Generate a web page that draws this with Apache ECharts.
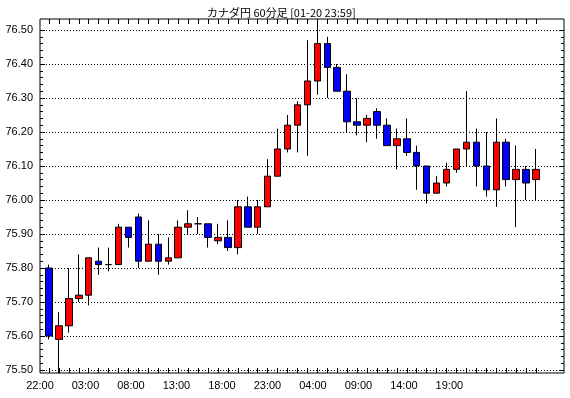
<!DOCTYPE html>
<html>
<head>
<meta charset="utf-8">
<script src="https://cdn.jsdelivr.net/npm/echarts@6/dist/echarts.min.js"></script>
<style>
  html, body { margin: 0; padding: 0; background: #fff; }
  #main { width: 570px; height: 398px; }
</style>
</head>
<body>
<div id="main"></div>
<script>
// hourly bars, 22:00 -> 23:00 two days later
var hours = ['22:00','23:00','00:00','01:00','02:00','03:00','04:00','05:00','06:00','07:00',
             '08:00','09:00','10:00','11:00','12:00','13:00','14:00','15:00','16:00','17:00',
             '18:00','19:00','20:00','21:00','22:00','23:00','00:00','01:00','02:00','03:00',
             '04:00','05:00','06:00','07:00','08:00','09:00','10:00','11:00','12:00','13:00',
             '14:00','15:00','16:00','17:00','18:00','19:00','20:00','21:00','22:00','23:00'];

var opens  = [75.80,75.59,75.63,75.71,75.72,75.82,75.81,75.81,75.92,75.95,
              75.82,75.87,75.82,75.83,75.92,75.93,75.93,75.88,75.89,75.86,
              75.98,75.92,75.98,76.07,76.15,76.22,76.28,76.35,76.46,76.39,
              76.32,76.23,76.22,76.26,76.22,76.16,76.18,76.14,76.10,76.02,
              76.05,76.09,76.15,76.17,76.10,76.03,76.17,76.06,76.09,76.06];
var closes = [75.60,75.63,75.71,75.72,75.83,75.81,75.81,75.92,75.89,75.82,
              75.87,75.82,75.83,75.92,75.93,75.93,75.89,75.89,75.86,75.98,
              75.92,75.98,76.07,76.15,76.22,76.28,76.35,76.46,76.39,76.32,
              76.23,76.22,76.24,76.22,76.16,76.18,76.14,76.10,76.02,76.05,
              76.09,76.15,76.17,76.10,76.03,76.17,76.06,76.09,76.05,76.09];
var lows   = [75.59,75.49,75.61,75.70,75.69,75.78,75.79,75.81,75.86,75.80,
              75.82,75.78,75.81,75.83,75.90,75.90,75.86,75.87,75.85,75.84,
              75.92,75.90,75.98,76.07,76.14,76.14,76.13,76.31,76.30,76.32,
              76.20,76.19,76.17,76.18,76.16,76.09,76.13,76.03,75.99,76.02,
              76.04,76.08,76.10,76.04,76.01,75.98,76.04,75.92,76.00,76.00];
var highs  = [75.81,75.67,75.80,75.84,75.83,75.86,75.86,75.93,75.92,75.96,
              75.94,75.90,75.89,75.94,75.97,75.95,75.93,75.93,75.94,76.00,
              76.01,76.00,76.12,76.21,76.25,76.29,76.47,76.52,76.48,76.40,
              76.37,76.30,76.25,76.27,76.24,76.21,76.24,76.16,76.10,76.07,
              76.11,76.15,76.32,76.21,76.20,76.24,76.18,76.16,76.10,76.15];

var refLevel = 76.24;
var hourLabels = ['22:00','03:00','08:00','13:00','18:00','23:00','04:00','09:00','14:00','19:00'];

var candles = [];
for (var i = 0; i < hours.length; i++) {
    candles.push([opens[i], closes[i], lows[i], highs[i]]);
}

var FONT = 'Liberation Sans';
var chart = echarts.init(document.getElementById('main'));

var tickAxis = function(pos){
    return {
        type: 'category', gridIndex: 2, position: pos, data: hours,
        axisLine: {show: false},
        axisTick: {show: true, inside: true, length: 5, alignWithLabel: true, interval: 0,
                   lineStyle: {color: '#000'}},
        axisLabel: {show: false},
        splitLine: {show: false}
    };
};

var priceAxis = function(pos, labels){
    return {
        type: 'value', gridIndex: 1, position: pos,
        min: 75.5, max: 76.5, interval: 0.1,
        axisLine: {show: false},
        axisTick: {show: true, inside: true, length: 5, lineStyle: {color: '#000'}},
        minorTick: {show: true, splitNumber: 5, length: 3, lineStyle: {color: '#000'}},
        axisLabel: {show: labels, margin: 7, color: '#000', fontFamily: FONT, fontSize: 11,
                    formatter: function(v){ return v.toFixed(2); }},
        splitLine: {show: labels, lineStyle: {color: '#000', type: [1, 2], width: 1}}
    };
};

var option = {
    backgroundColor: '#fff',
    animation: false,
    title: {
        text: 'カナダ円 60分足 [01-20 23:59]',
        left: 202, top: 2,
        textStyle: {fontFamily: 'Noto Sans CJK JP', fontSize: 11, fontWeight: 'normal', color: '#000'}
    },
    grid: [
        {left: 40, right: 6, top: 19, bottom: 25, show: true, borderColor: '#000', borderWidth: 1},
        {left: 40, right: 6, top: 30, bottom: 28},
        {left: 44, right: 29, top: 19, bottom: 25}
    ],
    xAxis: [
        {
            type: 'value', gridIndex: 0, min: 0, max: 57.6, interval: 5,
            axisLine: {show: false}, axisTick: {show: false}, splitLine: {show: false},
            axisLabel: {margin: 7, color: '#000', fontFamily: FONT, fontSize: 11, showMaxLabel: false,
                        formatter: function(v){ return hourLabels[Math.round(v / 5)] || ''; }}
        },
        {type: 'value', gridIndex: 1, show: false, min: 0, max: 1},
        tickAxis('bottom'),
        tickAxis('top')
    ],
    yAxis: [
        {type: 'value', gridIndex: 0, show: false, min: 0, max: 1},
        priceAxis('left', true),
        priceAxis('right', false),
        {type: 'value', gridIndex: 2, show: false, min: 75.49118, max: 76.53235}
    ],
    series: [{
        type: 'candlestick',
        xAxisIndex: 2,
        yAxisIndex: 3,
        barWidth: 7,
        data: candles,
        itemStyle: {
            color: '#ff0000', color0: '#0000ff',
            borderColor: '#000', borderColor0: '#000', borderColorDoji: '#000', borderWidth: 1
        },
        markLine: {
            silent: true,
            symbol: ['none', 'none'],
            label: {show: false},
            lineStyle: {color: '#000', type: 'solid', width: 1},
            data: [[{coord: [-1, refLevel]}, {coord: [48, refLevel]}]]
        }
    }]
};

chart.setOption(option);
</script>
</body>
</html>
